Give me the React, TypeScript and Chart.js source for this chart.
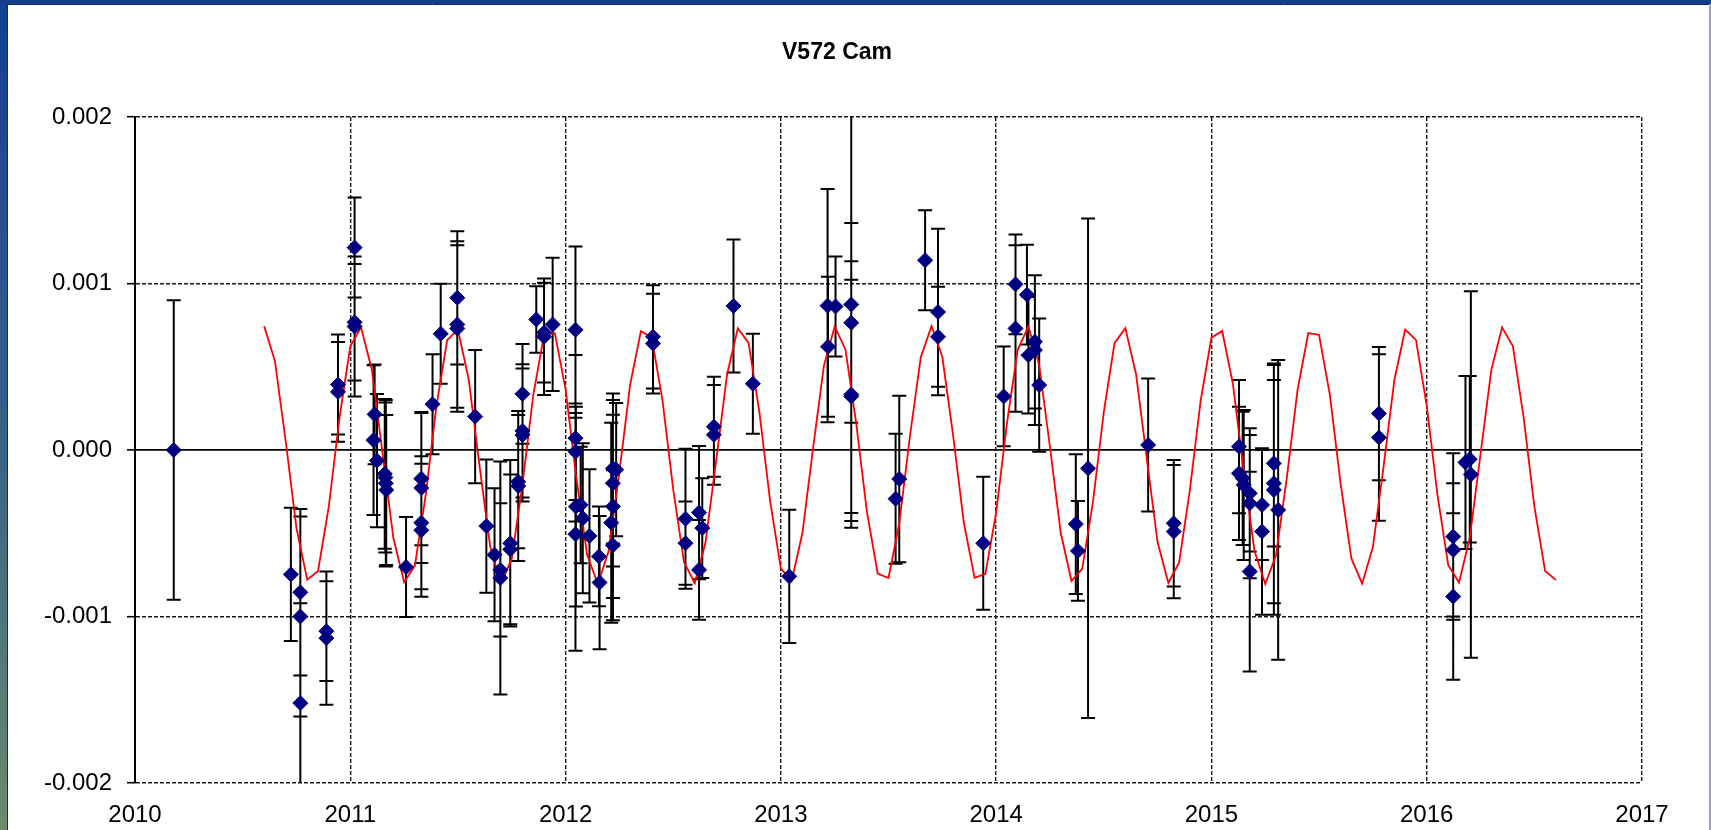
import React, { useEffect, useRef } from 'react';
import { Chart, registerables } from 'chart.js';

Chart.register(...registerables);

const TITLE = 'V572 Cam';
const FONT = '"Liberation Sans", Arial, Helvetica, sans-serif';

// Axis ranges / ticks
const xTickYears = [2010, 2011, 2012, 2013, 2014, 2015, 2016, 2017];
const yTickValues = [-0.002, -0.001, 0, 0.001, 0.002];

// Observed O-C points (years, O-C in units of 0.001, error in units of 0.001)
const obsYear = [
  2010.18, 2010.724, 2010.768, 2010.768, 2010.768, 2010.889, 2010.889, 2010.943, 2010.943, 2011.02,
  2011.02, 2011.02, 2011.113, 2011.108, 2011.124, 2011.16, 2011.163, 2011.165, 2011.167, 2011.259,
  2011.33, 2011.33, 2011.33, 2011.33, 2011.382, 2011.42, 2011.497, 2011.497, 2011.497, 2011.58,
  2011.632, 2011.67, 2011.697, 2011.697, 2011.743, 2011.743, 2011.78, 2011.78, 2011.8, 2011.8,
  2011.8, 2011.864, 2011.9, 2011.9, 2011.94, 2012.046, 2012.046, 2012.046, 2012.048, 2012.07,
  2012.08, 2012.046, 2012.111, 2012.155, 2012.158, 2012.22, 2012.22, 2012.22, 2012.212, 2012.22,
  2012.235, 2012.406, 2012.406, 2012.557, 2012.557, 2012.62, 2012.635, 2012.62, 2012.689, 2012.689,
  2012.78, 2012.87, 2013.039, 2013.217, 2013.219, 2013.254, 2013.327, 2013.327, 2013.327, 2013.327,
  2013.533, 2013.55, 2013.67, 2013.73, 2013.73, 2013.94, 2014.035, 2014.09, 2014.09, 2014.143,
  2014.15, 2014.18, 2014.18, 2014.2, 2014.37, 2014.38, 2014.427, 2014.706, 2014.825, 2014.825,
  2015.128, 2015.128, 2015.145, 2015.15, 2015.178, 2015.178, 2015.178, 2015.235, 2015.235, 2015.29,
  2015.29, 2015.29, 2015.31, 2015.778, 2015.778, 2016.123, 2016.123, 2016.123, 2016.18, 2016.2,
  2016.205,
];
const obsOC = [
  0.0, -0.747, -0.855, -1.0, -1.52, -1.088, -1.13, 0.393, 0.349, 1.216,
  0.767, 0.742, 0.214, 0.059, -0.064, -0.143, -0.165, -0.2, -0.24, -0.703,
  -0.172, -0.228, -0.437, -0.482, 0.275, 0.698, 0.914, 0.754, 0.73, 0.201,
  -0.457, -0.629, -0.72, -0.769, -0.56, -0.597, -0.19, -0.216, 0.337, 0.115,
  0.09, 0.784, 0.705, 0.68, 0.754, 0.722, 0.071, -0.01, -0.34, -0.33,
  -0.41, -0.506, -0.516, -0.639, -0.796, -0.111, -0.199, -0.339, -0.437, -0.572,
  -0.118, 0.68, 0.639, -0.413, -0.56, -0.376, -0.469, -0.72, 0.14, 0.091,
  0.865, 0.398, -0.759, 0.867, 0.62, 0.862, 0.874, 0.764, 0.333, 0.322,
  -0.293, -0.174, 1.14, 0.829, 0.68, -0.56, 0.322, 0.995, 0.73, 0.933,
  0.569, 0.6, 0.65, 0.39, -0.445, -0.606, -0.11, 0.03, -0.44, -0.49,
  0.02, -0.14, -0.17, -0.21, -0.26, -0.32, -0.73, -0.33, -0.49, -0.08,
  -0.2, -0.24, -0.36, 0.219, 0.075, -0.6, -0.52, -0.88, -0.075, -0.055,
  -0.147,
];
const obsErr = [
  0.9, 0.4, 0.5, 0.6, 0.6, 0.3, 0.4, 0.3, 0.3, 0.3,
  0.35, 0.42, 0.3, 0.45, 0.4, 0.45, 0.45, 0.5, 0.45, 0.3,
  0.4, 0.45, 0.4, 0.4, 0.3, 0.3, 0.4, 0.5, 0.5, 0.4,
  0.4, 0.4, 0.4, 0.7, 0.5, 0.45, 0.4, 0.45, 0.3, 0.4,
  0.4, 0.2, 0.3, 0.35, 0.4, 0.5, 0.5, 0.29, 0.6, 0.35,
  0.45, 0.7, 0.4, 0.3, 0.4, 0.45, 0.5, 0.55, 0.6, 0.45,
  0.4, 0.31, 0.3, 0.42, 0.25, 0.4, 0.3, 0.3, 0.3, 0.3,
  0.4, 0.3, 0.4, 0.7, 0.42, 0.3, 1.3, 0.6, 0.8, 0.7,
  0.39, 0.5, 0.3, 0.5, 0.3, 0.4, 0.3, 0.3, 0.5, 0.3,
  0.35, 0.45, 0.4, 0.4, 0.42, 0.3, 1.5, 0.4, 0.38, 0.4,
  0.4, 0.4, 0.4, 0.45, 0.35, 0.45, 0.6, 0.33, 0.5, 0.5,
  0.72, 0.75, 0.9, 0.4, 0.5, 0.4, 0.5, 0.5, 0.52, 0.5,
  1.1,
];

// Fitted curve (red line), vertices (O-C in units of 0.001)
const fitYear = [
  2010.6, 2010.65, 2010.7, 2010.75, 2010.8, 2010.85, 2010.9, 2010.95, 2011.0, 2011.05,
  2011.1, 2011.15, 2011.2, 2011.25, 2011.3, 2011.35, 2011.4, 2011.45, 2011.5, 2011.55,
  2011.6, 2011.65, 2011.7, 2011.75, 2011.8, 2011.85, 2011.9, 2011.95, 2012.0, 2012.05,
  2012.1, 2012.15, 2012.2, 2012.25, 2012.3, 2012.35, 2012.4, 2012.45, 2012.5, 2012.55,
  2012.6, 2012.65, 2012.7, 2012.75, 2012.8, 2012.85, 2012.9, 2012.95, 2013.0, 2013.05,
  2013.1, 2013.15, 2013.2, 2013.25, 2013.3, 2013.35, 2013.4, 2013.45, 2013.5, 2013.55,
  2013.6, 2013.65, 2013.7, 2013.75, 2013.8, 2013.85, 2013.9, 2013.95, 2014.0, 2014.05,
  2014.1, 2014.15, 2014.2, 2014.25, 2014.3, 2014.35, 2014.4, 2014.45, 2014.5, 2014.55,
  2014.6, 2014.65, 2014.7, 2014.75, 2014.8, 2014.85, 2014.9, 2014.95, 2015.0, 2015.05,
  2015.1, 2015.15, 2015.2, 2015.25, 2015.3, 2015.35, 2015.4, 2015.45, 2015.5, 2015.55,
  2015.6, 2015.65, 2015.7, 2015.75, 2015.8, 2015.85, 2015.9, 2015.95, 2016.0, 2016.05,
  2016.1, 2016.15, 2016.2, 2016.25, 2016.3, 2016.35, 2016.4, 2016.45, 2016.5, 2016.55,
  2016.6,
];
const fitOC = [
  0.744, 0.534, 0.053, -0.469, -0.779, -0.728, -0.342, 0.195, 0.623, 0.737,
  0.482, -0.02, -0.527, -0.794, -0.694, -0.274, 0.264, 0.66, 0.724, 0.425,
  -0.093, -0.581, -0.803, -0.653, -0.203, 0.33, 0.69, 0.703, 0.364, -0.166,
  -0.63, -0.805, -0.607, -0.131, 0.393, 0.714, 0.676, 0.299, -0.237, -0.673,
  -0.8, -0.556, -0.059, 0.452, 0.731, 0.643, 0.231, -0.306, -0.711, -0.788,
  -0.5, 0.014, 0.507, 0.741, 0.604, 0.162, -0.373, -0.743, -0.769, -0.44,
  0.087, 0.557, 0.745, 0.56, 0.09, -0.437, -0.768, -0.744, -0.376, 0.159,
  0.602, 0.742, 0.51, 0.018, -0.497, -0.787, -0.712, -0.309, 0.228, 0.642,
  0.732, 0.455, -0.055, -0.554, -0.799, -0.675, -0.24, 0.296, 0.675, 0.715,
  0.396, -0.128, -0.605, -0.805, -0.632, -0.169, 0.361, 0.702, 0.691, 0.333,
  -0.2, -0.651, -0.803, -0.583, -0.096, 0.422, 0.723, 0.661, 0.267, -0.27,
  -0.692, -0.795, -0.529, -0.024, 0.48, 0.737, 0.625, 0.198, -0.339, -0.727,
  -0.78,
];

const SCALE = 0.001;
const GRID_DASH = [4, 2];

const framePlugin = {
  id: 'frame',
  beforeDraw(chart: any) {
    const { ctx, width, height } = chart;
    ctx.save();
    ctx.fillStyle = '#ffffff';
    ctx.fillRect(0, 0, width, height);
    const g = ctx.createLinearGradient(0, 0, 0, height);
    g.addColorStop(0, '#123f94');
    g.addColorStop(0.5, '#35608a');
    g.addColorStop(1, '#6b8a6c');
    ctx.fillStyle = g;
    ctx.fillRect(0, 0, 7, height);
    ctx.fillStyle = '#123d8f';
    ctx.fillRect(0, 0, width, 4);
    ctx.fillStyle = '#9aa6bb';
    ctx.fillRect(width - 2, 4, 2, height - 4);
    ctx.strokeStyle = '#1c2c52';
    ctx.lineWidth = 1;
    ctx.beginPath();
    ctx.moveTo(7.5, 4);
    ctx.lineTo(7.5, height);
    ctx.moveTo(7, 4.5);
    ctx.lineTo(width - 2, 4.5);
    ctx.stroke();
    ctx.restore();
  },
  afterDraw(chart: any) {
    const { ctx } = chart;
    ctx.save();
    ctx.fillStyle = '#000';
    ctx.font = `bold 23px ${FONT}`;
    ctx.textAlign = 'center';
    ctx.textBaseline = 'middle';
    ctx.fillText(TITLE, 837, 53);
    ctx.restore();
  },
};

const errorBarPlugin = {
  id: 'errorBars',
  beforeDatasetsDraw(chart: any) {
    const { ctx, chartArea: a } = chart;
    const xs = chart.scales.x;
    const ys = chart.scales.y;
    ctx.save();
    ctx.beginPath();
    ctx.rect(a.left, a.top, a.right - a.left, a.bottom - a.top);
    ctx.clip();
    ctx.strokeStyle = '#000';
    ctx.lineWidth = 2;
    ctx.beginPath();
    for (let i = 0; i < obsYear.length; i++) {
      const px = xs.getPixelForValue(obsYear[i]);
      const top = ys.getPixelForValue((obsOC[i] + obsErr[i]) * SCALE);
      const bot = ys.getPixelForValue((obsOC[i] - obsErr[i]) * SCALE);
      ctx.moveTo(px, top);
      ctx.lineTo(px, bot);
      ctx.moveTo(px - 7, top);
      ctx.lineTo(px + 7, top);
      ctx.moveTo(px - 7, bot);
      ctx.lineTo(px + 7, bot);
    }
    ctx.stroke();
    ctx.restore();
  },
};

export default function App() {
  const ref = useRef<HTMLCanvasElement | null>(null);

  useEffect(() => {
    if (!ref.current) return;
    const isZero = (v: number) => Math.abs(v) < 1e-9;
    const chart = new Chart(ref.current, {
      type: 'scatter',
      data: {
        datasets: [
          {
            label: 'fit',
            data: fitYear.map((t, i) => ({ x: t, y: fitOC[i] * SCALE })),
            showLine: true,
            borderColor: '#ff0000',
            borderWidth: 1.8,
            pointRadius: 0,
            tension: 0,
            order: 2,
          } as any,
          {
            label: 'O-C',
            data: obsYear.map((t, i) => ({ x: t, y: obsOC[i] * SCALE })),
            showLine: false,
            pointStyle: 'rectRot',
            pointRadius: 7.5,
            backgroundColor: '#000080',
            borderColor: '#000080',
            borderWidth: 1,
            order: 1,
          } as any,
        ],
      },
      options: {
        responsive: false,
        animation: false,
        events: [],
        layout: { padding: { left: 8, right: 69, top: 117, bottom: 0 } },
        plugins: {
          legend: { display: false },
          tooltip: { enabled: false },
          title: { display: false },
        },
        scales: {
          x: {
            type: 'linear',
            min: xTickYears[0],
            max: xTickYears[xTickYears.length - 1],
            afterFit: (s: any) => {
              s.height = 47;
            },
            ticks: {
              stepSize: 1,
              autoSkip: false,
              maxRotation: 0,
              padding: 18,
              color: '#000',
              font: { family: FONT, size: 24 },
              callback: (v: any) => String(v),
            },
            grid: {
              color: '#1a1a1a',
              lineWidth: 1.4,
              drawTicks: false,
            },
            border: {
              display: false,
              color: '#1a1a1a',
              width: 1.4,
              dash: (c: any) => (c.tick && c.tick.value === xTickYears[0] ? [] : GRID_DASH),
            },
          } as any,
          y: {
            type: 'linear',
            min: yTickValues[0],
            max: yTickValues[yTickValues.length - 1],
            afterFit: (s: any) => {
              s.width = 127;
            },
            ticks: {
              stepSize: 0.001,
              padding: 15,
              color: '#000',
              font: { family: FONT, size: 24 },
              callback: (v: any) => Number(v).toFixed(3),
            },
            grid: {
              color: (c: any) => (c.tick && isZero(c.tick.value) ? '#000' : '#1a1a1a'),
              lineWidth: (c: any) => (c.tick && isZero(c.tick.value) ? 1.8 : 1.4),
              drawTicks: true,
              tickLength: 8,
              tickColor: '#000',
              tickWidth: 1.6,
              tickBorderDash: [],
            },
            border: {
              display: true,
              color: '#000',
              width: 2,
              dash: (c: any) => (c.tick && !isZero(c.tick.value) ? GRID_DASH : []),
            },
          } as any,
        },
      } as any,
      plugins: [framePlugin, errorBarPlugin],
    });
    return () => chart.destroy();
  }, []);

  return (
    <div style={{ position: 'fixed', left: 0, top: 0, width: 1711, height: 830, background: '#fff' }}>
      <canvas ref={ref} width={1711} height={830} style={{ display: 'block', width: 1711, height: 830 }} />
    </div>
  );
}
